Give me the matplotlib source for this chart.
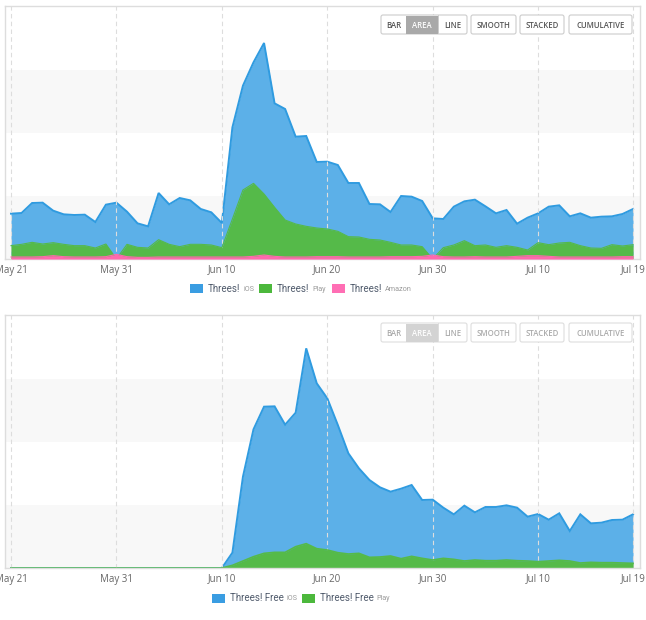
import numpy as np
import pandas as pd
import matplotlib
matplotlib.use('Agg')
import matplotlib.pyplot as plt
from matplotlib.patches import FancyBboxPatch, Rectangle
from matplotlib.transforms import Affine2D

plt.rcParams['font.family'] = ['Open Sans', 'DejaVu Sans']

# ---------------- data ----------------
dates = pd.date_range('2014-05-21', '2014-07-19', freq='D')
tick_dates = pd.to_datetime(['2014-05-21', '2014-05-31', '2014-06-10', '2014-06-20',
                             '2014-06-30', '2014-07-10', '2014-07-19'])
tick_labels = ['May 21', 'May 31', 'Jun 10', 'Jun 20', 'Jun 30', 'Jul 10', 'Jul 19']

threes_ios = [136, 138, 168, 169, 145, 134, 132, 133, 111, 163, 169, 142, 107, 98, 198, 164, 183, 176, 150, 140,
              108, 395, 520, 590, 648, 467, 450, 367, 369, 291, 292, 282, 228, 228, 165, 164, 141, 189, 187, 174,
              122, 120, 157, 173, 178, 158, 137, 147, 106, 124, 137, 157, 161, 128, 137, 124, 127, 128, 135, 150]
threes_play = [40, 44, 50, 45, 49, 44, 40, 40, 33, 45, 0, 44, 35, 33, 58, 44, 37, 44, 44, 42,
               34, 120, 207, 227, 195, 155, 117, 105, 98, 93, 90, 83, 67, 66, 59, 57, 50, 42, 42, 37,
               0, 34, 42, 55, 40, 42, 35, 40, 35, 27, 49, 43, 48, 50, 40, 33, 32, 43, 39, 43]
threes_amazon = [6, 6, 6, 7, 10, 7, 6, 6, 6, 7, 14, 7, 5, 5, 6, 6, 6, 6, 6, 6,
                 6, 6, 6, 8, 12, 8, 6, 6, 6, 7, 7, 7, 6, 6, 6, 6, 7, 7, 7, 8,
                 12, 7, 6, 6, 7, 6, 6, 6, 8, 10, 10, 8, 6, 6, 6, 6, 6, 6, 7, 7]

free_ios = [0] * 21 + [46, 274, 416, 484, 485, 430, 466, 659, 554, 509, 429, 344, 299, 264, 242, 229, 238, 249, 204,
                       205, 181, 161, 187, 167, 183, 183, 188, 181, 154, 162, 145, 164, 111, 161, 134, 136, 144, 145, 161]
free_play = [0] * 21 + [8, 21, 34, 44, 47, 47, 64, 73, 58, 54, 46, 42, 44, 32, 33, 36, 28, 35, 29,
                        24, 29, 26, 21, 24, 22, 22, 24, 22, 21, 19, 21, 23, 21, 15, 17, 16, 16, 15, 14]

buttons = ['BAR', 'AREA', 'LINE', 'SMOOTH', 'STACKED', 'CUMULATIVE']

# ---------------- styling ----------------
BLUE_FILL, BLUE_LINE = '#5cb0e8', '#2f9be0'
GREEN_FILL = '#55ba49'
PINK_FILL = '#ff69ad'
LEG_BLUE, LEG_GREEN, LEG_PINK = '#3a9de2', '#4cb83c', '#ff6eb4'
BAND = '#f8f8f8'

W, H = 646, 620
fig = plt.figure(figsize=(W / 100, H / 100), dpi=100)
fig.patch.set_facecolor('white')
PX = Affine2D().scale(1 / 100, -1 / 100).translate(0, H / 100) + fig.dpi_scale_trans


def make_axes(top, bottom, left=5, right=640):
    return fig.add_axes([left / W, 1 - bottom / H, (right - left) / W, (bottom - top) / H])


def style_axes(ax):
    ax.set_xlim(dates[0] - pd.Timedelta(days=0.57), dates[0] + pd.Timedelta(days=59.66))
    ax.set_ylim(0, 759)
    ax.axhspan(0, 189, color=BAND, zorder=0, lw=0)
    ax.axhspan(378, 567, color=BAND, zorder=0, lw=0)
    ax.set_yticks([])
    ax.set_xticks(tick_dates)
    ax.set_xticklabels(tick_labels)
    ax.tick_params(axis='x', length=0, labelsize=7, colors='#666666', pad=4)
    ax.grid(axis='x', color='#dddddd', ls=(0, (4, 3)), lw=0.8, zorder=0.5)
    for s in ax.spines.values():
        s.set_color('#dddddd')
        s.set_linewidth(1)


def draw_area(ax, vals, fill, line=None, lw=1.3, z=1):
    ax.fill_between(dates, vals, 0, color=fill, lw=0, zorder=z)
    ax.plot(dates, vals, color=line or fill, lw=lw, zorder=z + 0.1, solid_joinstyle='miter')


def draw_buttons(top, active_fill, text_col, border_col, active_text='white'):
    h = 19
    spans = [(381, 406), (406, 438), (438, 467), (471, 516), (520, 564), (569, 632)]
    fig.add_artist(FancyBboxPatch((381, top), 467 - 381, h, boxstyle='round,pad=0,rounding_size=2',
                                  transform=PX, fc='white', ec=border_col, lw=0.8, zorder=5))
    fig.add_artist(Rectangle((406, top + 0.5), 32, h - 1, transform=PX, fc=active_fill, ec='none', zorder=5.1))
    fig.add_artist(Rectangle((438, top), 0.8, h, transform=PX, fc=border_col, ec='none', zorder=5.1))
    for (x0, x1) in spans[3:]:
        fig.add_artist(FancyBboxPatch((x0, top), x1 - x0, h, boxstyle='round,pad=0,rounding_size=2',
                                      transform=PX, fc='white', ec=border_col, lw=0.8, zorder=5))
    for name, (x0, x1) in zip(buttons, spans):
        col = active_text if name == 'AREA' else text_col
        fig.text((x0 + x1) / 2, top + h / 2 + 0.5, name, transform=PX, ha='center', va='center',
                 fontsize=5.6, color=col, fontweight='semibold', zorder=6)


renderer = fig.canvas.get_renderer()


def legend_item(x, y, color, main, small):
    fig.add_artist(Rectangle((x, y - 4.5), 12.5, 9, transform=PX, fc=color, ec='none'))
    t = fig.text(x + 18, y, main, transform=PX, ha='left', va='center', fontsize=7.0,
                 color='#4f5a6b', family=['Roboto', 'DejaVu Sans'])
    bb = t.get_window_extent(renderer)
    fig.text(bb.x1 + 2.5, y + 0.8, small, transform=PX, ha='left', va='center', fontsize=5.2,
             color='#9a9a9a', family=['Roboto', 'DejaVu Sans'])


# ---------------- top chart ----------------
ax1 = make_axes(6, 259)
style_axes(ax1)
draw_area(ax1, threes_ios, BLUE_FILL, BLUE_LINE, lw=1.4, z=1)
draw_area(ax1, threes_play, GREEN_FILL, GREEN_FILL, lw=0.8, z=2)
draw_area(ax1, threes_amazon, PINK_FILL, PINK_FILL, lw=0.8, z=3)
draw_buttons(15, '#a9a9a9', '#555555', '#cccccc')
legend_item(190, 288.5, LEG_BLUE, 'Threes!', 'iOS')
legend_item(259, 288.5, LEG_GREEN, 'Threes!', 'Play')
legend_item(332, 288.5, LEG_PINK, 'Threes!', 'Amazon')

# ---------------- bottom chart ----------------
ax2 = make_axes(315, 568)
style_axes(ax2)
draw_area(ax2, free_ios, BLUE_FILL, BLUE_LINE, lw=1.4, z=1)
draw_area(ax2, free_play, GREEN_FILL, GREEN_FILL, lw=1.2, z=2)
draw_buttons(323, '#d3d3d3', '#aaaaaa', '#dddddd')
legend_item(212, 598, LEG_BLUE, 'Threes! Free', 'iOS')
legend_item(302, 598, LEG_GREEN, 'Threes! Free', 'Play')

fig.savefig('out.png', dpi=100, facecolor='white')
